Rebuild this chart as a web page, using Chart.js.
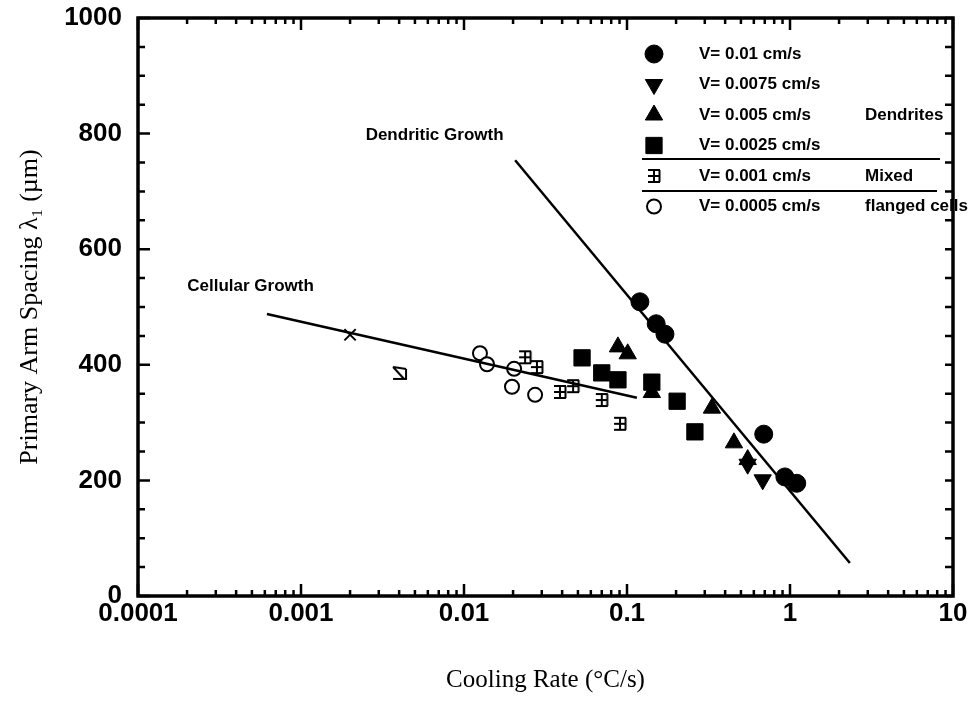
<!DOCTYPE html>
<html lang="en">
<head>
<meta charset="UTF-8">
<title>Primary Arm Spacing vs Cooling Rate</title>
<script src="https://cdn.jsdelivr.net/npm/chart.js@4/dist/chart.umd.min.js"></script>
<style>
  html, body { margin: 0; padding: 0; background: #fff; }
  #wrap { width: 977px; height: 713px; }
</style>
</head>
<body>
<div id="wrap"><canvas id="chart" width="977" height="713"></canvas></div>
<script>
// ---- data ----
const xTickValues = [0.0001, 0.001, 0.01, 0.1, 1, 10];
const xTickLabels = ['0.0001', '0.001', '0.01', '0.1', '1', '10'];
const yTickValues = [0, 200, 400, 600, 800, 1000];
const yTickLabels = ['0', '200', '400', '600', '800', '1000'];

const legendLabels = ['V= 0.01 cm/s', 'V= 0.0075 cm/s', 'V= 0.005 cm/s', 'V= 0.0025 cm/s', 'V= 0.001 cm/s', 'V= 0.0005 cm/s'];
const legendNotes = ['', '', 'Dendrites', '', 'Mixed', 'flanged cells'];

const v01X = [0.120, 0.151, 0.171, 0.69, 0.93, 1.10];
const v01Y = [509, 471, 453, 280, 206, 195];

const v0075X = [0.55, 0.68];
const v0075Y = [228, 201];

const v005X = [0.088, 0.101, 0.142, 0.332, 0.453, 0.55];
const v005Y = [431, 419, 352, 325, 265, 236];

const v0025X = [0.053, 0.070, 0.088, 0.142, 0.203, 0.261];
const v0025Y = [412, 386, 374, 370, 337, 284];

const v001X = [0.0237, 0.028, 0.0388, 0.0467, 0.070, 0.0906];
const v001Y = [413, 396, 353, 363, 339, 298];

const v0005X = [0.01253, 0.01384, 0.0203, 0.0197, 0.0273];
const v0005Y = [420, 401, 393, 362, 348];

const crossX = [0.0020];
const crossY = [452];
const oddX = [0.00405];
const oddY = [386];

const cellularX = [0.000618, 0.115];
const cellularY = [488, 343];
const dendriticX = [0.0206, 2.33];
const dendriticY = [754, 57];

const growthLabels = ['Dendritic Growth', 'Cellular Growth'];
const growthLabelX = [0.0066, 0.00049];
const growthLabelY = [797, 536];

// ---- helpers ----
function pts(xs, ys) { return xs.map((x, i) => ({ x: x, y: ys[i] })); }

function makeMixedIcon() {
  const c = document.createElement('canvas');
  c.width = 16; c.height = 16;
  const g = c.getContext('2d');
  g.strokeStyle = '#000'; g.lineWidth = 2;
  g.beginPath();
  g.moveTo(2, 2); g.lineTo(14, 2);
  g.moveTo(2, 8); g.lineTo(14, 8);
  g.moveTo(2, 14); g.lineTo(14, 14);
  g.moveTo(13.5, 2); g.lineTo(13.5, 14);
  g.moveTo(8, 2); g.lineTo(8, 14);
  g.stroke();
  return c;
}

function makeOddIcon() {
  const c = document.createElement('canvas');
  c.width = 18; c.height = 18;
  const g = c.getContext('2d');
  g.strokeStyle = '#000'; g.lineWidth = 2;
  g.beginPath();
  g.moveTo(2, 3); g.lineTo(15, 5);
  g.moveTo(2, 3); g.lineTo(13, 15);
  g.moveTo(15, 5); g.lineTo(15, 15);
  g.moveTo(2, 15); g.lineTo(16, 15);
  g.stroke();
  return c;
}

const mixedIcon = makeMixedIcon();
const oddIcon = makeOddIcon();

const marker = {
  v01: { pointStyle: 'circle', pointRadius: 9, pointBackgroundColor: '#000', pointBorderColor: '#000', pointBorderWidth: 1 },
  v0075: { pointStyle: 'triangle', pointRotation: 180, pointRadius: 10, pointBackgroundColor: '#000', pointBorderColor: '#000', pointBorderWidth: 1 },
  v005: { pointStyle: 'triangle', pointRadius: 10, pointBackgroundColor: '#000', pointBorderColor: '#000', pointBorderWidth: 1 },
  v0025: { pointStyle: 'rect', pointRadius: 11.5, pointBackgroundColor: '#000', pointBorderColor: '#000', pointBorderWidth: 1 },
  v001: { pointStyle: mixedIcon, pointRadius: 8 },
  v0005: { pointStyle: 'circle', pointRadius: 7, pointBackgroundColor: '#fff', pointBorderColor: '#000', pointBorderWidth: 2 }
};

// frame, inward ticks, legend box and labels
const decorPlugin = {
  id: 'decor',
  afterDatasetsDraw(chart) {
    const { ctx, chartArea: a, scales: { x, y } } = chart;
    ctx.save();
    ctx.strokeStyle = '#000';
    ctx.fillStyle = '#000';

    // y ticks (every 50, major every 200)
    ctx.lineWidth = 2.5;
    for (let v = 0; v <= 1000; v += 50) {
      const py = y.getPixelForValue(v);
      const major = yTickValues.includes(v);
      ctx.beginPath();
      ctx.moveTo(a.left, py); ctx.lineTo(a.left + (major ? 12 : 7), py);
      ctx.moveTo(a.right, py); ctx.lineTo(a.right - 8, py);
      ctx.stroke();
    }
    // x ticks, log minors
    for (let d = 0; d < xTickValues.length; d++) {
      for (let m = 1; m <= 9; m++) {
        const v = xTickValues[d] * m;
        if (v > 10 + 1e-9) continue;
        const px = x.getPixelForValue(v);
        const len = m === 1 ? 12 : 6;
        ctx.beginPath();
        ctx.moveTo(px, a.bottom); ctx.lineTo(px, a.bottom - len);
        ctx.moveTo(px, a.top); ctx.lineTo(px, a.top + len);
        ctx.stroke();
      }
    }
    // frame
    ctx.lineWidth = 3.5;
    ctx.strokeRect(a.left, a.top, a.right - a.left, a.bottom - a.top);

    // growth labels
    ctx.font = 'bold 17px "Liberation Sans", Arial, sans-serif';
    ctx.textAlign = 'center';
    ctx.textBaseline = 'middle';
    growthLabels.forEach((t, i) => {
      ctx.fillText(t, x.getPixelForValue(growthLabelX[i]), y.getPixelForValue(growthLabelY[i]));
    });

    // legend
    const keys = ['v01', 'v0075', 'v005', 'v0025', 'v001', 'v0005'];
    const symX = 654, textX = 699, noteX = 865;
    ctx.textAlign = 'left';
    ctx.font = 'bold 17px "Liberation Sans", Arial, sans-serif';
    keys.forEach((k, i) => {
      const ry = 54 + i * 30.5;
      const m = marker[k];
      ctx.save();
      if (m.pointStyle instanceof HTMLCanvasElement) {
        ctx.drawImage(m.pointStyle, symX - m.pointStyle.width / 2, ry - m.pointStyle.height / 2);
      } else {
        ctx.fillStyle = m.pointBackgroundColor;
        ctx.strokeStyle = m.pointBorderColor;
        ctx.lineWidth = m.pointBorderWidth;
        Chart.helpers.drawPoint(ctx, { pointStyle: m.pointStyle, radius: m.pointRadius, rotation: m.pointRotation || 0, borderWidth: m.pointBorderWidth }, symX, ry);
      }
      ctx.restore();
      ctx.fillText(legendLabels[i], textX, ry);
      if (legendNotes[i]) ctx.fillText(legendNotes[i], noteX, ry);
    });
    ctx.lineWidth = 2;
    ctx.beginPath();
    ctx.moveTo(642, 159); ctx.lineTo(940, 159);
    ctx.moveTo(642, 191); ctx.lineTo(937, 191);
    ctx.stroke();
    ctx.restore();
  }
};

const lineStyle = { type: 'line', borderColor: '#000', borderWidth: 2.5, pointRadius: 0, fill: false };

new Chart(document.getElementById('chart'), {
  type: 'scatter',
  data: {
    datasets: [
      Object.assign({ label: 'Cellular Growth', data: pts(cellularX, cellularY) }, lineStyle),
      Object.assign({ label: 'Dendritic Growth', data: pts(dendriticX, dendriticY) }, lineStyle),
      Object.assign({ label: legendLabels[0], data: pts(v01X, v01Y) }, marker.v01),
      Object.assign({ label: legendLabels[1], data: pts(v0075X, v0075Y) }, marker.v0075),
      Object.assign({ label: legendLabels[2], data: pts(v005X, v005Y) }, marker.v005),
      Object.assign({ label: legendLabels[3], data: pts(v0025X, v0025Y) }, marker.v0025),
      Object.assign({ label: legendLabels[4], data: pts(v001X, v001Y) }, marker.v001),
      Object.assign({ label: legendLabels[5], data: pts(v0005X, v0005Y) }, marker.v0005),
      { label: 'x', data: pts(crossX, crossY), pointStyle: 'crossRot', pointRadius: 8, pointBorderColor: '#000', pointBorderWidth: 2 },
      { label: 'odd', data: pts(oddX, oddY), pointStyle: oddIcon, pointRadius: 9 }
    ]
  },
  options: {
    responsive: false,
    animation: false,
    devicePixelRatio: 1,
    layout: { padding: { top: 18, right: 24, left: 0, bottom: 0 } },
    plugins: { legend: { display: false }, tooltip: { enabled: false } },
    scales: {
      x: {
        type: 'logarithmic',
        min: 0.0001,
        max: 10,
        afterBuildTicks: s => { s.ticks = xTickValues.map(v => ({ value: v })); },
        afterFit: s => { s.height = 117; s.paddingLeft = 0; s.paddingRight = 0; },
        grid: { display: false, drawTicks: false },
        border: { display: false },
        ticks: {
          autoSkip: false,
          maxRotation: 0,
          padding: 2,
          color: '#000',
          font: { family: '"Liberation Sans", Arial, sans-serif', size: 26, weight: 'bold' },
          callback: (v, i) => xTickLabels[i]
        },
        title: {
          display: true,
          text: 'Cooling Rate (°C/s)',
          color: '#000',
          font: { family: '"Liberation Serif", "Times New Roman", serif', size: 25 },
          padding: { top: 0, bottom: 18 }
        }
      },
      y: {
        min: 0,
        max: 1000,
        afterBuildTicks: s => { s.ticks = yTickValues.map(v => ({ value: v })); },
        afterFit: s => { s.width = 138; s.paddingTop = 0; s.paddingBottom = 0; },
        grid: { display: false, drawTicks: false },
        border: { display: false },
        ticks: {
          padding: 16,
          color: '#000',
          font: { family: '"Liberation Sans", Arial, sans-serif', size: 26, weight: 'bold' },
          callback: (v, i) => yTickLabels[i]
        },
        title: {
          display: true,
          text: 'Primary Arm Spacing λ₁ (µm)',
          color: '#000',
          font: { family: '"Liberation Serif", "Times New Roman", serif', size: 26 },
          padding: { top: 15, bottom: 0 }
        }
      }
    }
  },
  plugins: [decorPlugin]
});
</script>
</body>
</html>
